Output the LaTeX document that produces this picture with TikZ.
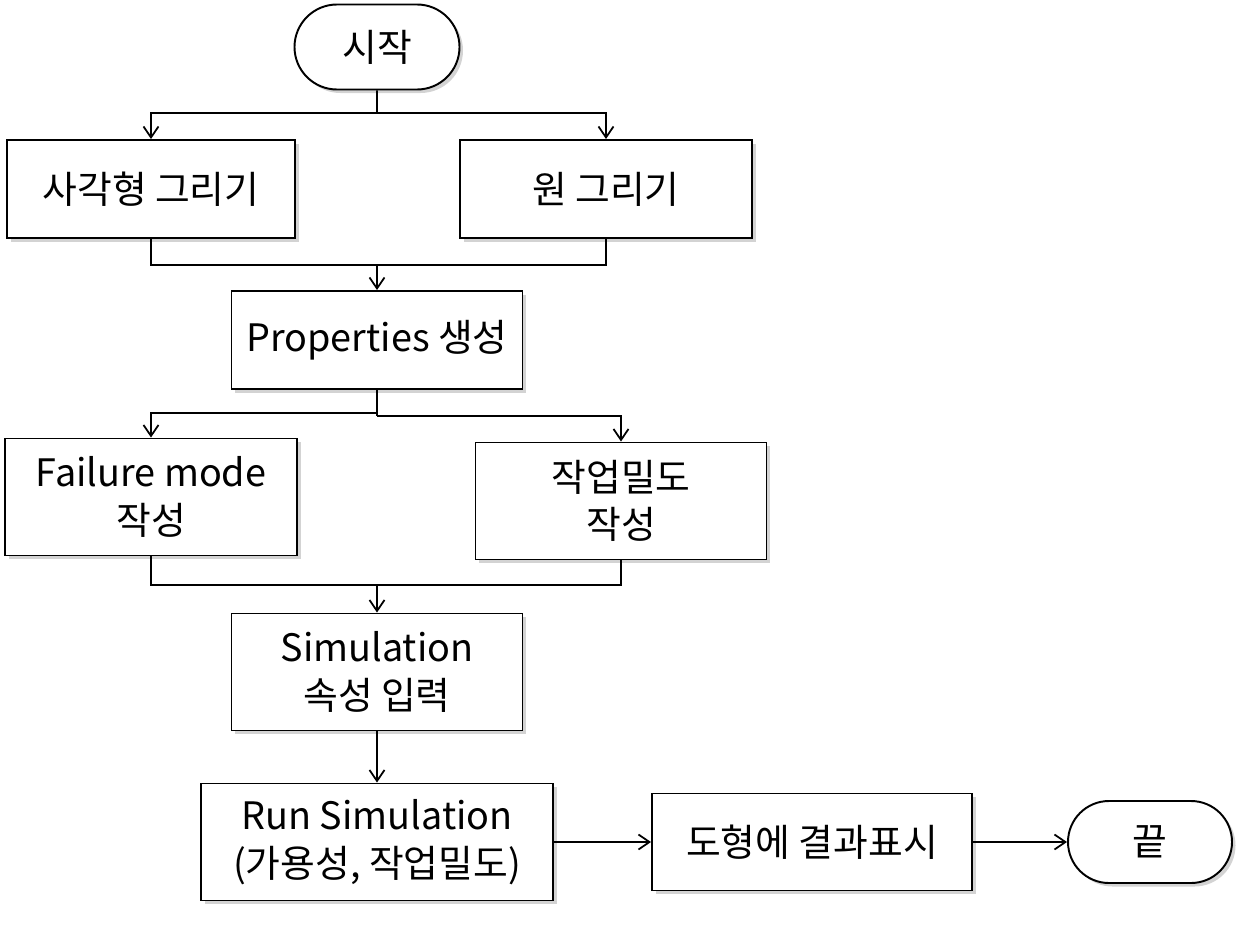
\documentclass[tikz,border=0pt]{standalone}
\usepackage{fontspec}
\setmainfont{Noto Sans CJK KR}
\usetikzlibrary{positioning, shapes.misc, arrows.meta, shadows}

\tikzset{
  box/.style={draw, line width=1.1pt, fill=white, align=center, inner sep=0pt,
    font=\fontsize{21.5}{27}\selectfont,
    drop shadow={shadow xshift=0.07cm, shadow yshift=-0.07cm, opacity=0.35, fill=gray}},
  term/.style={box, rounded rectangle},
  link/.style={line width=1pt},
  arr/.style={link, -{Straight Barb[length=0.22cm, width=0.3cm, line width=1pt]}}
}

\begin{document}
\begin{tikzpicture}
    \useasboundingbox (0,0) rectangle (24.94,-18.5);

    \node [term, minimum width=3.3cm, minimum height=1.7cm] (start) at (7.54, -0.94) {시작};
    \node [box, minimum width=5.76cm, minimum height=1.96cm] (rectdraw) at (3.02, -3.78) {사각형 그리기};
    \node [box, minimum width=5.84cm, minimum height=1.96cm] (circdraw) at (12.12, -3.78) {원 그리기};
    \node [box, minimum width=5.82cm, minimum height=1.96cm] (props) at (7.54, -6.8) {Properties 생성};
    \node [box, minimum width=5.84cm, minimum height=2.34cm] (failmode) at (3.02, -9.94) {Failure mode\\작성};
    \node [box, minimum width=5.82cm, minimum height=2.34cm] (density) at (12.42, -10.02) {작업밀도\\작성};
    \node [box, minimum width=5.82cm, minimum height=2.34cm] (siminput) at (7.54, -13.44) {Simulation\\속성 입력};
    \node [box, minimum width=7.04cm, minimum height=2.34cm] (runsim) at (7.54, -16.84) {Run Simulation\\(가용성, 작업밀도)};
    \node [box, minimum width=6.4cm, minimum height=1.94cm] (result) at (16.24, -16.84) {도형에 결과표시};
    \node [term, minimum width=3.28cm, minimum height=1.64cm] (stop) at (23.0, -16.84) {끝};

    \coordinate (split1) at (7.54, -2.26);
    \coordinate (merge1) at (7.54, -5.3);
    \coordinate (split2) at (7.54, -8.26);
    \coordinate (split2r) at (7.54, -8.32);
    \coordinate (merge2) at (7.54, -11.7);

    \draw [link] (start) -- (split1);
    \draw [arr] (split1) -| (rectdraw);
    \draw [arr] (split1) -| (circdraw);

    \draw [link] (rectdraw) |- (merge1) -| (circdraw);
    \draw [arr] (merge1) -- (props);

    \draw [link] (props) -- (split2r);
    \draw [arr] (split2) -| (failmode);
    \draw [arr] (split2r) -| (density);

    \draw [link] (failmode) |- (merge2) -| (density);
    \draw [arr] (merge2) -- (siminput);

    \draw [arr] (siminput) -- (runsim);
    \draw [arr] (runsim) -- (result);
    \draw [arr] (result) -- (stop);
\end{tikzpicture}
\end{document}
